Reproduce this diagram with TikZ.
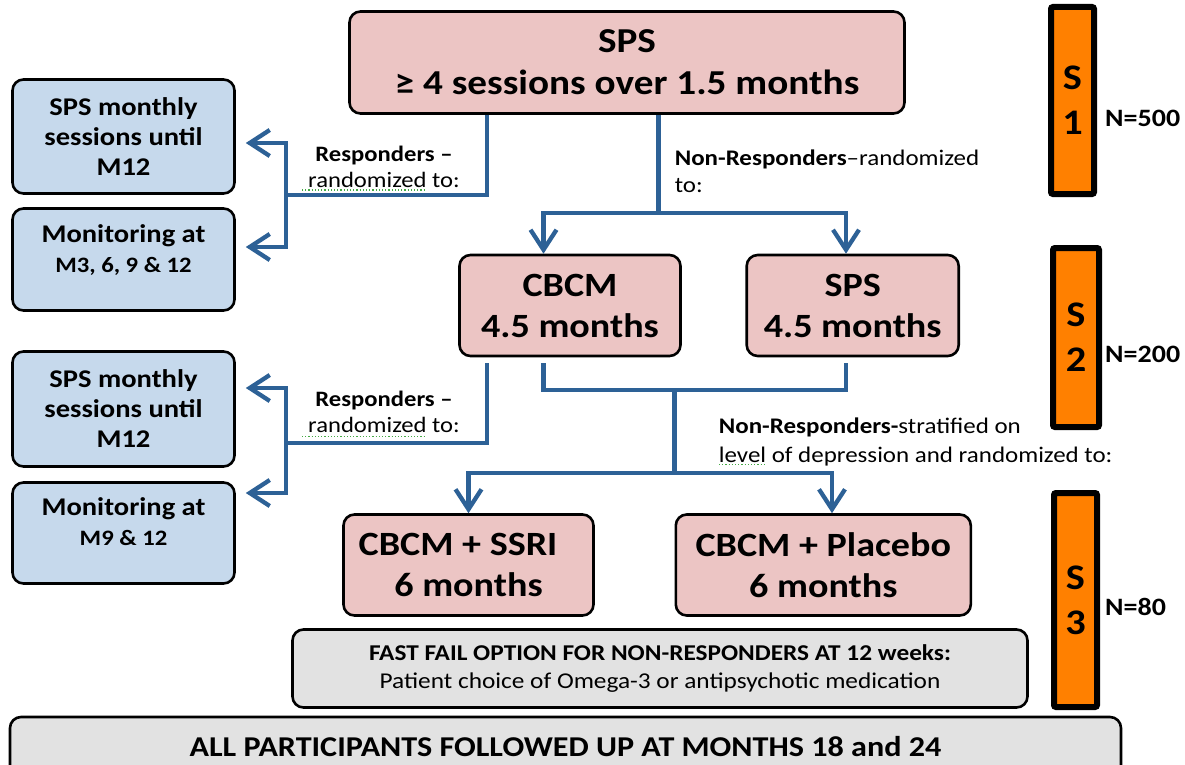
\documentclass[tikz,border=0pt]{standalone}
\usepackage{fontspec}
\setmainfont{Carlito}[FakeStretch=1.12]
\usetikzlibrary{arrows.meta,calc}
\definecolor{boxpink}{RGB}{236,197,196}
\definecolor{boxblue}{RGB}{198,217,236}
\definecolor{boxgray}{RGB}{226,226,226}
\definecolor{flowblue}{RGB}{45,97,150}
\definecolor{stageorange}{RGB}{255,128,0}
\definecolor{spellgreen}{RGB}{70,170,70}
\newcommand{\myfs}[2]{\fontsize{#1}{#2}\selectfont}
\begin{document}
\begin{tikzpicture}[x=1pt,y=-1pt,
  box/.style={draw=black, line width=2.6pt, rounded corners=11pt, inner sep=0pt, align=center},
  pinkbox/.style={box, fill=boxpink, font=\myfs{34}{41}\bfseries},
  bluebox/.style={box, fill=boxblue, font=\myfs{25.5}{30}\bfseries},
  graybox/.style={box, fill=boxgray},
  boxtext/.style={anchor=base, inner sep=0pt},
  stagebar/.style={draw=black, line width=6pt, rounded corners=2pt, fill=stageorange, inner sep=0pt, align=center, font=\myfs{36}{45}\bfseries},
  nlabel/.style={anchor=base west, inner sep=0pt, font=\myfs{25}{30}\bfseries},
  flowlabel/.style={inner sep=0pt},
  flow/.style={draw=flowblue, line width=4.3pt},
  flowarrow/.style={flow, -{Straight Barb[length=20pt,width=26pt]}},
  spell/.style={draw=spellgreen, line width=1.2pt, dotted},
]
\useasboundingbox (0,0) rectangle (1185,765);

% ---- stage 1 ----
\node[pinkbox, minimum width=555, minimum height=102, font=\myfs{35}{42}\bfseries]
  (sps) at (627,62.5) {SPS\\≥ 4 sessions over 1.5 months};
\node[bluebox, minimum width=222, minimum height=114] (blue1) at (123.5,136.5)
  {SPS monthly\\sessions until\\M12};
\node[bluebox, minimum width=222, minimum height=102] (blue2) at (123.5,259.5) {};
\node[boxtext, font=\myfs{25.5}{30}\bfseries] (blue2a) at (123.5,242) {Monitoring at};
\node[boxtext, font=\myfs{22}{26}\bfseries] (blue2b) at (123.5,272) {M3, 6, 9 \& 12};

% ---- stage 2 ----
\node[pinkbox, minimum width=221, minimum height=101] (cbcm) at (570,305.5) {CBCM\\4.5 months};
\node[pinkbox, minimum width=212, minimum height=101] (sps2) at (852.7,305.5) {SPS\\4.5 months};
\node[bluebox, minimum width=222, minimum height=115] (blue3) at (123.5,409)
  {SPS monthly\\sessions until\\M12};
\node[bluebox, minimum width=222, minimum height=101] (blue4) at (123.5,533) {};
\node[boxtext, font=\myfs{25.5}{30}\bfseries] (blue4a) at (123.5,515) {Monitoring at};
\node[boxtext, font=\myfs{22}{26}\bfseries] (blue4b) at (123.5,545) {M9 \& 12};

% ---- stage 3 ----
\node[pinkbox, minimum width=250, minimum height=101] (ssri) at (468.5,565)
  {CBCM + SSRI\hspace*{21pt}\\6 months};
\node[pinkbox, minimum width=295, minimum height=101] (placebo) at (823.3,565)
  {CBCM + Placebo\\6 months};
\node[graybox, minimum width=735, minimum height=78, font=\myfs{22.6}{28}] (fastfail) at (660,668.5)
  {\textbf{FAST FAIL OPTION FOR NON-RESPONDERS AT 12 weeks:}\\Patient choice of Omega-3 or antipsychotic medication};
\node[graybox, minimum width=1111, minimum height=60, font=\myfs{28.7}{32}\bfseries] (allfu) at (565.5,747)
  {ALL PARTICIPANTS FOLLOWED UP AT MONTHS 18 and 24};

% ---- stage bars ----
\node[stagebar, minimum width=43, minimum height=187] (s1) at (1072.5,100.5) {S\\1};
\node[stagebar, minimum width=46, minimum height=179] (s2) at (1076,337.5) {S\\2};
\node[stagebar, minimum width=43, minimum height=214] (s3) at (1075.5,600) {S\\3};
\node[nlabel] (n1) at (1105,127) {N=500};
\node[nlabel] (n2) at (1105,362) {N=200};
\node[nlabel] (n3) at (1105,615) {N=80};

% ---- connector labels ----
\node[flowlabel, align=center, font=\myfs{22}{26}] (lab1) at (384,167)
  {\textbf{Responders –}\\randomized to:};
\node[flowlabel, align=left, anchor=west, font=\myfs{22.3}{27}] (lab2) at (674.6,171)
  {\textbf{Non-Responders}–randomized\\to:};
\node[flowlabel, align=center, font=\myfs{22}{26}] (lab3) at (384,412)
  {\textbf{Responders –}\\randomized to:};
\node[flowlabel, align=left, anchor=west, font=\myfs{22.3}{29}] (lab4) at (718.7,442)
  {\textbf{Non-Responders-}stratified on\\level of depression and randomized to:};
% spelling marks under words
\draw[spell] (302,190) -- (424,190);
\draw[spell] (302,436.5) -- (424,436.5);
\draw[spell] (719,464.5) -- (766,464.5);

% ---- branch points ----
\coordinate (rx) at (487,0);
\coordinate (sp1) at (286,195);
\coordinate (sp2) at (286,443);
\coordinate (tip1) at ([xshift=10pt,yshift=-6.5pt]blue1.east);
\coordinate (tip2) at ([xshift=10pt,yshift=12.5pt]blue2.east);
\coordinate (tip3) at ([xshift=10pt,yshift=21pt]blue3.east);
\coordinate (tip4) at ([xshift=10pt,yshift=40pt]blue4.east);
\coordinate (nj) at (658.6,213);
\coordinate (cx1) at (543.5,0);
\coordinate (cx2) at (846,0);
\coordinate (cx3) at (832,0);
\coordinate (mj) at (674.6,390);
\coordinate (mj2) at (674.6,473);

% ---- connectors ----
\draw[flowarrow] (sps.south -| rx) |- (sp1) |- (tip1);
\draw[flowarrow] (sp1) |- (tip2);
\draw[flow] (sps.south -| nj) -- (nj);
\draw[flowarrow] (nj) -| (cbcm.north -| cx1);
\draw[flowarrow] (nj) -| (sps2.north -| cx2);

\draw[flowarrow, shorten <=6pt] (cbcm.south -| rx) |- (sp2) |- (tip3);
\draw[flowarrow] (sp2) |- (tip4);
\draw[flow, shorten <=6pt, shorten >=6pt] (cbcm.south -| cx1) -- (cx1 |- mj) -- (cx2 |- mj) -- (sps2.south -| cx2);
\draw[flow] (mj) -- (mj2);
\draw[flowarrow] (mj2) -| (ssri.north);
\draw[flowarrow] (mj2) -| (placebo.north -| cx3);
\end{tikzpicture}
\end{document}
